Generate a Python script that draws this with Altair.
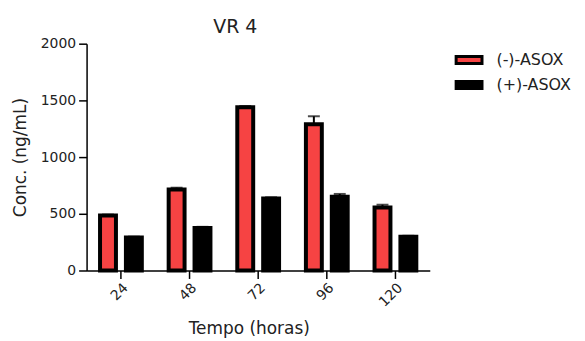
import altair as alt
import pandas as pd

times = ["24", "48", "72", "96", "120"]
series = ["(-)-ASOX", "(+)-ASOX"]
neg_vals = [485, 715, 1440, 1290, 555]
neg_err = [8, 15, 10, 70, 25]
pos_vals = [290, 375, 635, 650, 298]
pos_err = [8, 10, 10, 25, 8]
colors = ["#F64343", "#000000"]

rows = []
for i, t in enumerate(times):
    rows.append({"time": t, "series": series[0], "value": neg_vals[i], "upper": neg_vals[i] + neg_err[i]})
    rows.append({"time": t, "series": series[1], "value": pos_vals[i], "upper": pos_vals[i] + pos_err[i]})
df = pd.DataFrame(rows)

FONT = "DejaVu Sans"
TXT = "#222222"

x_enc = alt.X(
    "time:N",
    sort=times,
    scale=alt.Scale(paddingInner=0.391, paddingOuter=0.196),
    axis=alt.Axis(
        title="Tempo (horas)",
        labelAngle=-45,
        labelFontSize=14,
        labelFont=FONT,
        labelColor=TXT,
        labelPadding=2,
        tickSize=8,
        titleFont=FONT,
        titleFontSize=17,
        titleFontWeight="normal",
        titleColor=TXT,
        titleX=163,
        titleY=58,
        titleBaseline="middle",
        titleAlign="center",
    ),
)
xoff_enc = alt.XOffset("series:N", sort=series, scale=alt.Scale(paddingInner=0.385, paddingOuter=0))
y_scale = alt.Scale(domain=[0, 2000], nice=False)

bars = alt.Chart(df).mark_bar(stroke="black", strokeWidth=4).encode(
    x=x_enc,
    xOffset=xoff_enc,
    y=alt.Y(
        "value:Q",
        scale=y_scale,
        axis=alt.Axis(
            title="Conc. (ng/mL)",
            values=[0, 500, 1000, 1500, 2000],
            format="d",
            grid=False,
            labelFontSize=14,
            labelFont=FONT,
            labelColor=TXT,
            labelPadding=3,
            tickSize=8,
            titleFont=FONT,
            titleFontSize=17,
            titleFontWeight="normal",
            titleColor=TXT,
            titleAngle=-90,
            titleX=-66,
            titleY=114,
            titleBaseline="middle",
            titleAlign="center",
        ),
    ),
    color=alt.Color(
        "series:N",
        sort=series,
        scale=alt.Scale(domain=series, range=colors),
        legend=alt.Legend(
            title=None,
            orient="none",
            legendX=370,
            legendY=2,
            padding=0,
            rowPadding=0,
            symbolType="M-1,-0.27H1V0.27H-1Z",
            symbolSize=676,
            symbolStrokeColor="black",
            symbolStrokeWidth=3,
            symbolOpacity=1,
            labelOffset=13,
            labelFont=FONT,
            labelFontSize=16,
            labelColor=TXT,
        ),
    ),
)

err = alt.Chart(df).mark_rule(color="black", strokeWidth=2).encode(
    x=alt.X("time:N", sort=times),
    xOffset=alt.XOffset("series:N", sort=series),
    y=alt.Y("value:Q"),
    y2="upper:Q",
)
caps = alt.Chart(df).mark_tick(color="black", thickness=2, size=12).encode(
    x=alt.X("time:N", sort=times),
    xOffset=alt.XOffset("series:N", sort=series),
    y=alt.Y("upper:Q"),
)

chart = (
    alt.layer(bars, err, caps)
    .properties(
        width=345,
        height=228,
        autosize=alt.AutoSizeParams(type="none"),
        padding={"left": 79, "top": 35, "right": 148, "bottom": 70},
        title=alt.TitleParams(
            "VR 4",
            font=FONT,
            fontSize=19,
            fontWeight="normal",
            color=TXT,
            anchor="middle",
            dx=-23,
            dy=19,
            offset=4,
            baseline="alphabetic",
        ),
    )
    .configure_view(stroke=None)
    .configure_axis(
        domainColor="black",
        domainWidth=1.5,
        tickColor="black",
        tickWidth=1.5,
        grid=False,
    )
)

chart.save("out.html", embed_options={"renderer": "svg", "actions": False})
